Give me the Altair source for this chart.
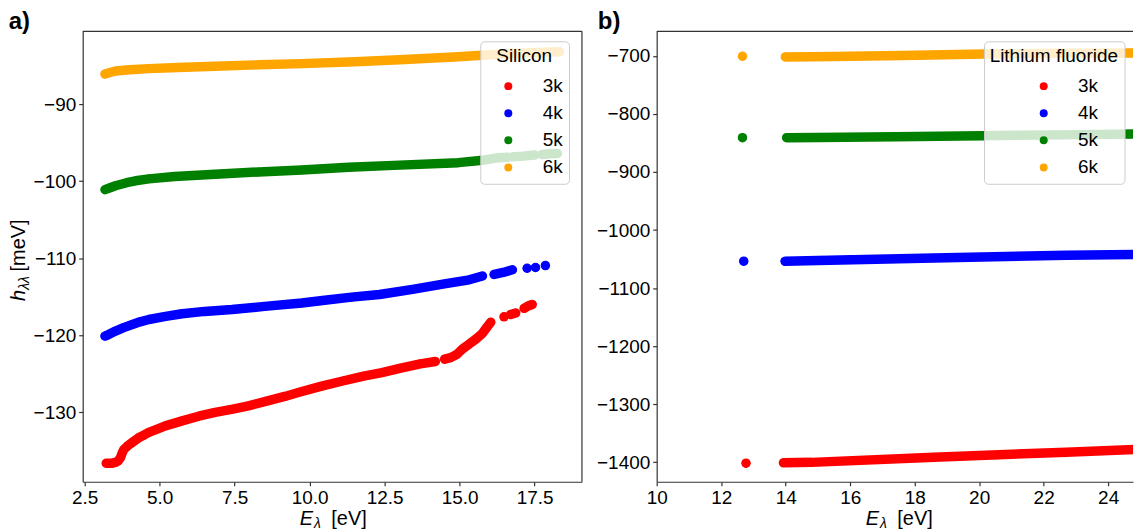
import altair as alt
import pandas as pd

FONT = "Liberation Sans"
SERIES = ["3k", "4k", "5k", "6k"]
COLORS = ["red", "blue", "green", "orange"]
PANEL_TAGS = ["a)", "b)"]
LEGEND_TITLES = ["Silicon", "Lithium fluoride"]

# Each series is a list of runs of neighbouring samples: (E_lambda [eV], h_lambdalambda [meV])
SI_3K = [
    [(3.22, -136.6), (3.40, -136.6), (3.53, -136.5), (3.62, -136.3), (3.70, -135.85),
     (3.76, -135.2), (3.81, -134.8), (3.95, -134.3), (4.09, -133.9), (4.30, -133.3),
     (4.50, -132.9), (4.64, -132.6), (4.90, -132.2), (5.19, -131.75), (5.50, -131.4),
     (5.75, -131.1), (6.30, -130.5), (6.85, -130.0), (7.40, -129.6), (7.96, -129.15),
     (8.60, -128.5), (9.20, -127.9), (9.74, -127.3), (10.40, -126.6), (11.14, -125.9),
     (11.80, -125.3), (12.41, -124.85), (13.00, -124.3), (13.69, -123.7), (14.19, -123.4)],
    [(14.50, -123.1), (14.70, -122.9), (14.90, -122.5), (15.09, -121.8), (15.30, -121.2),
     (15.54, -120.5), (15.75, -119.8), (15.90, -119.0), (16.04, -118.3)],
    [(16.48, -117.6)],
    [(16.70, -117.3), (16.87, -117.1)],
    [(17.15, -116.5), (17.28, -116.2), (17.42, -116.0)],
]
SI_4K = [
    [(3.18, -120.1), (3.30, -119.9), (3.53, -119.45), (3.80, -119.0), (4.09, -118.6),
     (4.35, -118.25), (4.64, -117.95), (5.20, -117.55), (5.75, -117.2), (6.50, -116.9),
     (7.41, -116.65), (8.50, -116.25), (9.74, -115.8), (10.50, -115.45), (11.40, -115.05),
     (12.33, -114.7), (13.43, -114.05), (14.54, -113.3), (15.32, -112.8), (15.76, -112.3)],
    [(16.15, -112.1), (16.45, -111.85), (16.76, -111.5)],
    [(17.25, -111.3)],
    [(17.53, -111.2)],
    [(17.86, -110.95)],
]
SI_5K = [
    [(3.18, -101.1), (3.35, -100.85), (3.53, -100.6), (3.90, -100.2), (4.20, -99.95),
     (4.64, -99.7), (5.50, -99.4), (6.85, -99.1), (8.30, -98.8), (9.74, -98.55),
     (11.30, -98.2), (12.80, -97.95), (14.96, -97.6), (15.85, -97.25), (16.20, -97.0),
     (16.60, -96.9)],
    [(16.75, -96.85), (17.10, -96.75), (17.50, -96.6)],
    [(17.75, -96.55), (18.00, -96.45), (18.26, -96.4)],
]
SI_6K = [
    [(3.18, -86.1), (3.35, -85.9), (3.53, -85.7), (4.00, -85.55), (4.64, -85.4),
     (5.60, -85.25), (6.85, -85.1), (8.30, -84.9), (9.74, -84.75), (11.50, -84.5),
     (13.00, -84.25), (14.96, -83.85), (16.00, -83.6), (17.00, -83.4), (18.00, -83.25),
     (18.33, -83.2)],
]

LIF_3K = [
    [(12.77, -1401.7)],
    [(13.93, -1401.0), (14.80, -1400.3), (18.60, -1391.4), (22.70, -1382.8), (25.00, -1377.5)],
]
LIF_4K = [
    [(12.70, -1053.7)],
    [(13.98, -1053.7), (15.00, -1052.3), (18.60, -1048.0), (22.70, -1043.4), (25.00, -1042.0)],
]
LIF_5K = [
    [(12.66, -840.8)],
    [(14.03, -840.8), (15.00, -840.5), (17.40, -839.1), (20.10, -837.4), (22.50, -836.0),
     (25.00, -834.5)],
]
LIF_6K = [
    [(12.66, -700.5)],
    [(13.99, -701.7), (14.80, -701.5), (15.50, -700.8), (17.60, -699.3), (20.20, -696.5),
     (22.50, -695.5), (25.00, -694.8)],
]

SI_XTICKS = [2.5, 5.0, 7.5, 10.0, 12.5, 15.0, 17.5]
SI_YTICKS = [-90, -100, -110, -120, -130]
LIF_XTICKS = [10, 12, 14, 16, 18, 20, 22, 24]
LIF_YTICKS = [-700, -800, -900, -1000, -1100, -1200, -1300, -1400]

HEIGHT = 452
FRAME = "#333333"
ONE = pd.DataFrame({"k": [0]})


def table(groups):
    rows = []
    for name, colour, runs in zip(SERIES, COLORS, groups):
        for i, run in enumerate(runs):
            for e, h in run:
                rows.append({"E": e, "h": h, "series": name, "run": f"{name}-{i}",
                             "ink": colour})
    return pd.DataFrame(rows)


def text(t, x, y, size=20, style="normal", weight="normal", angle=0):
    return alt.Chart(ONE).mark_text(
        text=t, font=FONT, fontSize=size, fontStyle=style, fontWeight=weight,
        align="left", baseline="alphabetic", angle=angle, color="black",
    ).encode(x=alt.value(x), y=alt.value(y))


def axis(values, fmt):
    return alt.Axis(
        values=values, format=fmt, title=None, grid=False,
        domain=True, domainColor=FRAME, domainWidth=1.2,
        ticks=True, tickSize=4, tickColor=FRAME, tickWidth=1.2,
        labelFont=FONT, labelFontSize=19, labelColor="black", labelPadding=3,
        labelFlush=False, labelOverlap=False,
    )


def panel(df, width, xdom, ydom, xticks, yticks, xfmt, yfmt, tag, legend_title,
          legend_x, symbol_offset, title_center, right_border):
    x = alt.X("E:Q", scale=alt.Scale(domain=xdom, nice=False, zero=False), axis=axis(xticks, xfmt))
    y = alt.Y("h:Q", scale=alt.Scale(domain=ydom, nice=False, zero=False), axis=axis(yticks, yfmt))

    # dense runs of samples drawn as a thick round-capped band
    bands = alt.Chart(df).mark_line(
        strokeWidth=9.5, strokeCap="round", strokeJoin="round", clip=True
    ).encode(
        x=x, y=y,
        stroke=alt.Stroke("ink:N", scale=None),
        detail="run:N", order="E:Q",
    )
    dots = alt.Chart(df).mark_circle(size=72, opacity=1, clip=True).encode(
        x=x, y=y,
        color=alt.Color("series:N", scale=alt.Scale(domain=SERIES, range=COLORS),
                        legend=alt.Legend(
            title=legend_title, orient="none", legendX=legend_x, legendY=10,
            direction="vertical",
            titleFont=FONT, titleFontSize=19, titleFontWeight="normal",
            titleColor="black", titleAnchor="middle", titlePadding=10.5,
            labelFont=FONT, labelFontSize=19, labelColor="black", labelOffset=25,
            symbolType="circle", symbolSize=64, symbolStrokeWidth=0,
            symbolOpacity=1, symbolOffset=symbol_offset,
            rowPadding=7.2, padding=6,
            fillColor="rgba(255,255,255,0.8)", strokeColor="#cccccc", cornerRadius=4,
        )),
    )

    layers = [bands, dots]
    # top edge of the frame
    layers.append(alt.Chart(ONE).mark_rule(color=FRAME, strokeWidth=1.2).encode(
        x=alt.value(0), x2=alt.value(width), y=alt.value(0)))
    if right_border:
        layers.append(alt.Chart(ONE).mark_rule(color=FRAME, strokeWidth=1.2).encode(
            x=alt.value(width), y=alt.value(0), y2=alt.value(HEIGHT)))

    # x-axis title: E_lambda [eV]
    layers += [
        text("E", title_center - 32.8, 495.7, style="italic"),
        text("λ", title_center - 18.5, 498.5, size=14, style="italic"),
        text("[eV]", title_center - 1.0, 495.7),
    ]
    # panel tag
    layers.append(text(tag, -74.3 if tag == "a)" else -59.1, -2.6, size=24, weight="bold"))
    return alt.layer(*layers).properties(width=width, height=HEIGHT)


si = table([SI_3K, SI_4K, SI_5K, SI_6K])
lif = table([LIF_3K, LIF_4K, LIF_5K, LIF_6K])

left = panel(si, 501, [2.437, 19.078], [-139.0, -80.56], SI_XTICKS, SI_YTICKS, ".1f", "d",
             PANEL_TAGS[0], LEGEND_TITLES[0], 399, 12.6, 250.5, True)
# rotated y-axis title: h_lambdalambda [meV]
left = alt.layer(
    left,
    text("h", -58.3, 270.7, style="italic", angle=270),
    text("λλ", -53.8, 259.4, size=14, style="italic", angle=270),
    text("[meV]", -58.3, 241.0, angle=270),
)

right = panel(lif, 478, [10, 24.771], [-1433.7, -657.6], LIF_XTICKS, LIF_YTICKS, "d", "d",
              PANEL_TAGS[1], LEGEND_TITLES[1], 328.5, 25.4, 242.5, False)

chart = alt.hconcat(left, right, spacing=12).resolve_scale(
    color="independent"
).resolve_legend(color="independent").properties(
    padding={"left": 8, "top": 7.5, "right": 0, "bottom": 0}
).configure_view(stroke="transparent")

chart.save("out.html", embed_options={"renderer": "svg", "actions": False})
